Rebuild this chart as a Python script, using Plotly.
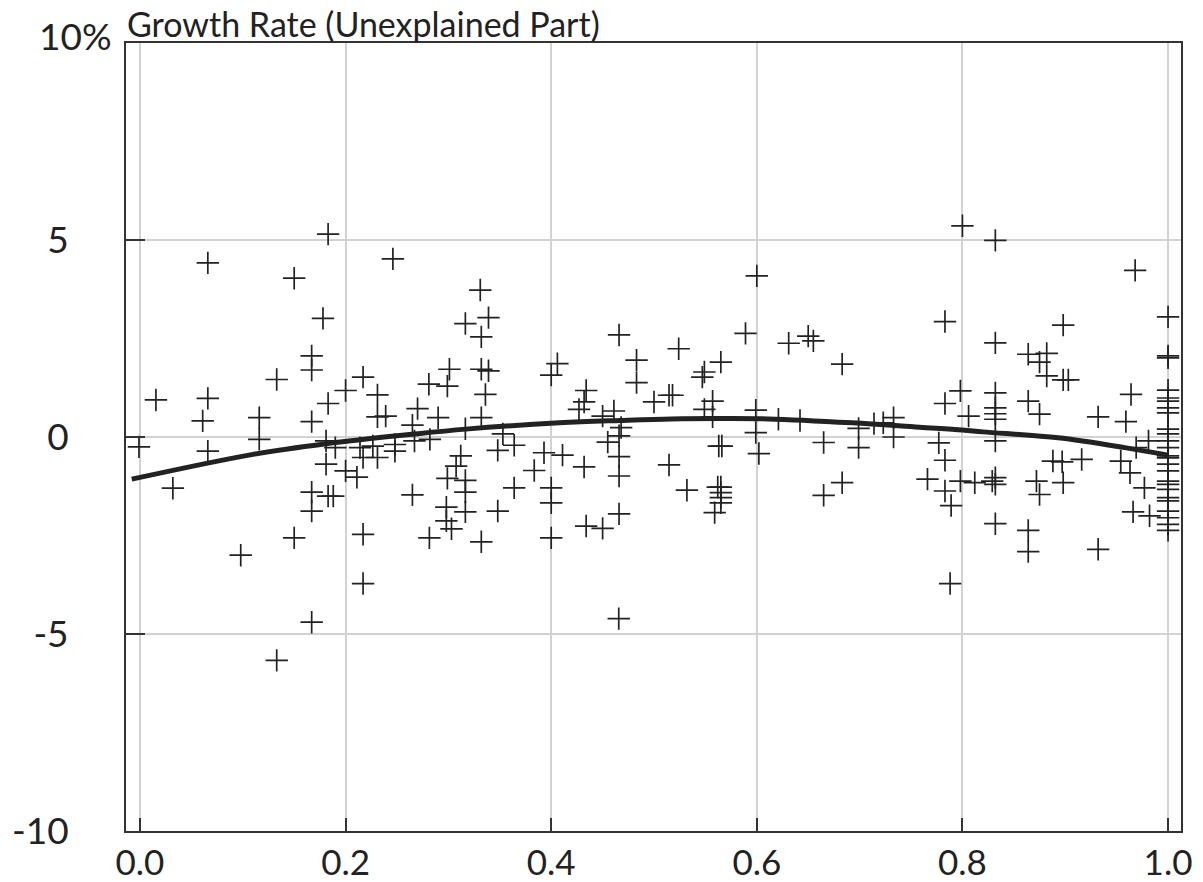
import plotly.graph_objects as go

# ---- data ----
pts = [
    (-0.001, -0.25), (0.0155, 0.94), (0.032, -1.30), (0.061, 0.41), (0.066, 4.42), (0.066, 0.98),
    (0.066, -0.36), (0.098, -3.0), (0.116, 0.49), (0.116, -0.06), (0.133, 1.46), (0.133, -5.67),
    (0.150, 4.03), (0.150, -2.56), (0.167, 2.06), (0.167, 1.70), (0.167, 0.39), (0.167, -1.40),
    (0.167, -1.88), (0.167, -4.70), (0.178, 3.01), (0.181, -0.10), (0.181, -0.69), (0.183, 5.15),
    (0.183, 0.85), (0.183, -1.50), (0.188, -1.50), (0.19, -0.27), (0.200, 1.18), (0.200, -0.86),
    (0.211, -1.02), (0.214, -0.27), (0.217, 1.52), (0.217, -0.52), (0.217, -2.47), (0.217, -3.72),
    (0.2265, -0.23), (0.231, 1.07), (0.231, 0.51), (0.231, -0.52), (0.239, 0.53), (0.246, 4.52),
    (0.248, -0.19), (0.248, -0.36),
    (0.265, 0.30), (0.265, -1.47), (0.267, -0.10), (0.270, 0.72), (0.281, 1.34), (0.2815, -2.56),
    (0.282, -0.06), (0.290, 0.49), (0.298, -1.78), (0.298, -2.13), (0.299, 1.29), (0.299, -1.05),
    (0.301, 1.72), (0.303, -2.33), (0.3075, -0.74), (0.312, -0.48), (0.3165, 2.88), (0.3165, 0.21),
    (0.3165, -1.10), (0.3165, -1.40), (0.3165, -1.90), (0.331, 3.73), (0.332, 2.54), (0.332, 1.72),
    (0.332, 0.49), (0.332, -2.66), (0.336, 1.08), (0.339, 3.03), (0.339, 1.68), (0.348, -0.34),
    (0.348, -1.88), (0.353, 0.08), (0.364, -0.21), (0.364, -1.29), (0.3835, -0.85), (0.393, -0.40),
    (0.400, 1.57), (0.400, -1.29), (0.400, -1.67), (0.400, -2.56), (0.406, 1.86), (0.411, -0.46),
    (0.427, 0.70), (0.432, 0.89), (0.432, -0.76), (0.434, 1.18), (0.434, -2.26), (0.450, 0.53),
    (0.450, -2.32), (0.455, -0.13), (0.461, 0.66), (0.466, 2.59), (0.466, 0.03), (0.466, -0.50),
    (0.466, -0.99), (0.466, -1.95), (0.4657, -4.61), (0.468, 0.24), (0.483, 1.95), (0.483, 1.38),
    (0.500, 0.89), (0.5146, 1.06), (0.518, 1.06), (0.5146, -0.71), (0.524, 2.24), (0.532, -1.35),
    (0.547, 1.52), (0.549, 1.65), (0.549, 0.70), (0.557, 0.91), (0.557, 0.51), (0.559, -1.92),
    (0.562, -1.27), (0.565, 1.90), (0.565, -1.27), (0.565, -1.41), (0.565, -1.54), (0.565, -1.67),
    (0.563, -0.23), (0.566, -0.23), (0.589, 2.63), (0.599, 0.68), (0.599, 0.11), (0.600, 4.09),
    (0.602, -0.42),
    (0.621, 0.45), (0.631, 2.38), (0.642, 0.42), (0.650, 2.56), (0.655, 2.44), (0.665, -0.14),
    (0.665, -1.48), (0.683, 1.85), (0.683, -1.16), (0.699, 0.22), (0.699, -0.27), (0.714, 0.34),
    (0.723, 0.36), (0.733, 0.49), (0.733, 0.00), (0.766, -1.07), (0.777, -0.15), (0.783, 2.93),
    (0.783, 0.85), (0.783, -0.59), (0.783, -1.37), (0.788, -3.72), (0.789, -1.74), (0.798, 1.17),
    (0.798, -1.12), (0.800, 5.36), (0.806, 0.53), (0.812, -1.16),
    (0.829, -1.12), (0.832, 4.99), (0.832, 2.39), (0.832, 1.12), (0.832, 0.74), (0.832, 0.59),
    (0.832, 0.45), (0.832, -0.10), (0.832, -1.03), (0.832, -1.20), (0.832, -2.20), (0.864, 2.10),
    (0.864, 0.91), (0.864, -2.37), (0.864, -2.91), (0.872, -1.12), (0.875, 1.90), (0.875, 0.58),
    (0.875, -1.46), (0.882, 2.12), (0.882, 1.55), (0.888, -0.61), (0.897, -0.63), (0.898, 2.84),
    (0.898, 1.45), (0.903, 1.45), (0.898, -1.16), (0.916, -0.57), (0.932, 0.51), (0.932, -2.85),
    (0.954, -0.61), (0.959, 0.39), (0.963, -0.91), (0.964, 1.08), (0.966, -1.90), (0.968, 4.23),
    (0.969, -0.27), (0.977, -1.29), (0.981, -0.10), (0.982, -2.00),
]
pts_at_one = [3.05, 2.06, 2.01, 1.19, 0.99, 0.91, 0.74, 0.61, 0.20, 0.08, -0.10, -0.27, -0.48,
              -0.53, -0.69, -0.86, -1.12, -1.20, -1.33, -1.54, -1.62, -1.88, -2.05, -2.22, -2.37]

point_x = [p[0] for p in pts] + [1.0] * len(pts_at_one)
point_y = [p[1] for p in pts] + pts_at_one

curve_x = [-0.008, 0.11, 0.181, 0.265, 0.317, 0.408, 0.467, 0.517, 0.57, 0.611, 0.693, 0.758, 0.80, 0.82, 0.893, 0.958, 1.0]
curve_y = [-1.07, -0.44, -0.17, 0.07, 0.20, 0.36, 0.42, 0.46, 0.47, 0.46, 0.36, 0.25, 0.18, 0.13, -0.02, -0.27, -0.46]

x_ticks = [0.0, 0.2, 0.4, 0.6, 0.8, 1.0]
x_tick_text = ["0.0", "0.2", "0.4", "0.6", "0.8", "1.0"]
y_ticks = [-10, -5, 0, 5]
y_tick_text = ["-10", "-5", "0", "5"]
y_top_label = "10%"
title_text = "Growth Rate (Unexplained Part)"

FONT = "Lato"
INK = "#222222"

fig = go.Figure()
fig.add_trace(go.Scatter(
    x=point_x, y=point_y, mode="markers",
    marker=dict(symbol="cross-thin", size=16, line=dict(width=1.7, color=INK), color=INK),
    showlegend=False, hoverinfo="x+y",
))
fig.add_trace(go.Scatter(
    x=curve_x, y=curve_y, mode="lines",
    line=dict(color=INK, width=5, shape="spline", smoothing=1.0),
    showlegend=False,
))

fig.update_layout(
    width=1203, height=882,
    margin=dict(l=126, r=22, t=43, b=51, autoexpand=False),
    paper_bgcolor="white", plot_bgcolor="white",
    font=dict(family=FONT, color=INK, size=36),
    xaxis=dict(
        range=[-0.0136, 1.0126], tickvals=x_ticks, ticktext=x_tick_text,
        showgrid=True, gridcolor="#d2d2d2", gridwidth=1.5,
        showline=True, linecolor="#333333", linewidth=2, mirror=True,
        ticks="inside", ticklen=13, tickwidth=2, tickcolor="#333333",
        tickfont=dict(family=FONT, size=35, color=INK), ticklabelstandoff=0,
        zeroline=False, automargin=False,
    ),
    yaxis=dict(
        range=[-10, 10], tickvals=y_ticks, ticktext=y_tick_text,
        showgrid=True, gridcolor="#d2d2d2", gridwidth=1.5,
        showline=True, linecolor="#333333", linewidth=2, mirror=True,
        ticks="inside", ticklen=19, tickwidth=2, tickcolor="#333333",
        tickfont=dict(family=FONT, size=37, color=INK), ticklabelstandoff=48,
        zeroline=False, automargin=False,
    ),
    annotations=[
        dict(text=y_top_label, xref="paper", yref="y", x=0, y=10, xanchor="right", yanchor="middle",
             xshift=-12, yshift=8, showarrow=False, font=dict(family=FONT, size=37, color=INK)),
        dict(text=title_text, xref="paper", yref="paper", x=0, y=1, xanchor="left", yanchor="bottom",
             xshift=-1, yshift=-3, showarrow=False, font=dict(family=FONT, size=34, color=INK)),
    ],
)

# remove the default 8px page margin so the figure sits at the window's top-left corner
fig.write_html("out.html", config={"displayModeBar": False},
               post_script="document.body.style.margin='0';")
